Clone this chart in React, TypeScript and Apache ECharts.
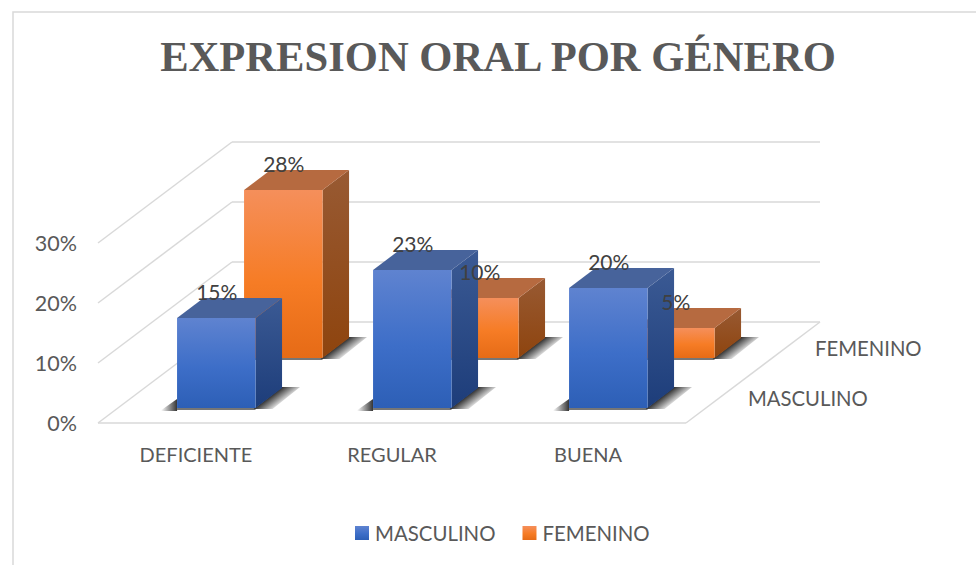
import React, { useEffect, useRef } from "react";
import * as echarts from "echarts";

const titleText = "EXPRESION ORAL POR GÉNERO";
const categories = ["DEFICIENTE", "REGULAR", "BUENA"];
const masculino = [15, 23, 20];
const femenino = [28, 10, 5];
const valueTicks = [0, 10, 20, 30];
const SERIES_M = "MASCULINO";
const SERIES_F = "FEMENINO";

const FONT = "Lato, 'Open Sans', sans-serif";
const TEXT = "#595959";
const GRID_LINE = "#d9d9d9";

const lg = (stops: [number, string][]) =>
  new echarts.graphic.LinearGradient(0, 0, 0, 1, stops.map(([offset, color]) => ({ offset, color })));

const blue = {
  front: () => lg([[0, "#5f83d0"], [0.55, "#3d6ec8"], [1, "#2d5fb6"]]),
  side: () => lg([[0, "#3b5a94"], [1, "#1d3d7a"]]),
  top: "#47639b",
};
const orange = {
  front: () => lg([[0, "#f58f5b"], [0.55, "#f67c25"], [1, "#e66b16"]]),
  side: () => lg([[0, "#985a33"], [1, "#8e440e"]]),
  top: "#b66a40",
};

// Depth geometry of the oblique projection
const BAR_W = 78.5;
const DEPTH_X = 26.5;
const DEPTH_Y = 20;
const rowOffset = [
  { dx: 20.3, dy: -15 },
  { dx: 87.3, dy: -65 },
];

function barItem(row: number, palette: typeof blue) {
  return (_: any, api: any) => {
    const base = api.coord([api.value(0), 0]);
    const top = api.coord([api.value(0), api.value(1)]);
    const { dx, dy } = rowOffset[row];
    const x0 = base[0] + dx - BAR_W / 2;
    const x1 = x0 + BAR_W;
    const y0 = base[1] + dy;
    const y1 = top[1] + dy;
    const poly = (points: number[][], fill: any, stroke?: string) => ({
      type: "polygon",
      shape: { points },
      style: { fill, stroke: stroke || "none", lineWidth: stroke ? 1 : 0 },
      silent: true,
    });
    const shadowDark = "rgba(30,30,30,0.9)";
    const shadowMid = "rgba(30,30,30,0.5)";
    const shadowClear = "rgba(30,30,30,0)";
    const mx = x1 + 13;
    const my = y0 - 10;
    const rightShadow = new echarts.graphic.LinearGradient(
      mx, my, mx + 8, my + 10.6,
      [{ offset: 0, color: shadowDark }, { offset: 0.45, color: shadowMid }, { offset: 1, color: shadowClear }],
      true
    );
    const leftShadow = new echarts.graphic.LinearGradient(
      x0 - 16, y0, x0, y0,
      [{ offset: 0, color: shadowClear }, { offset: 0.55, color: shadowMid }, { offset: 1, color: shadowDark }],
      true
    );
    return {
      type: "group",
      children: [
        poly([[x1 - 2, y0 + 1], [x1 + DEPTH_X, y0 - DEPTH_Y - 1], [x1 + DEPTH_X + 18, y0 - DEPTH_Y - 1], [x1 + 17, y0 + 1]], rightShadow),
        poly([[x0 - 17, y0 + 3], [x0, y0 - 9], [x0, y0 + 3]], leftShadow),
        poly([[x0, y0 + 2], [x1, y0 + 2], [x1, y0], [x0, y0]], "rgba(60,60,60,0.7)"),
        poly([[x1, y1], [x1 + DEPTH_X, y1 - DEPTH_Y], [x1 + DEPTH_X, y0 - DEPTH_Y], [x1, y0]], palette.side()),
        poly([[x0, y1], [x0 + DEPTH_X, y1 - DEPTH_Y], [x1 + DEPTH_X, y1 - DEPTH_Y], [x1, y1]], palette.top),
        poly([[x0, y1], [x1, y1], [x1, y0], [x0, y0]], palette.front()),
      ],
    };
  };
}

function labelItem(_: any, api: any) {
  const row = api.value(2);
  const top = api.coord([api.value(0), api.value(1)]);
  const { dx, dy } = rowOffset[row];
  return {
    type: "text",
    silent: true,
    style: {
      x: top[0] + dx + 0.5,
      y: top[1] + dy - 26.5,
      text: `${api.value(1)}%`,
      fill: "#404040",
      font: `21px ${FONT}`,
      align: "center",
      verticalAlign: "middle",
    },
  };
}

function wallItem(params: any, api: any) {
  const v = api.value(1);
  const y = api.coord([0, v])[1];
  const sys = params.coordSys;
  const left = sys.x;
  const right = sys.x + sys.width;
  const backDx = 134;
  const backDy = -101;
  const line = (x1: number, y1: number, x2: number, y2: number) => ({
    type: "line",
    silent: true,
    shape: { x1, y1, x2, y2 },
    style: { stroke: GRID_LINE, lineWidth: 1.5 },
  });
  const children = [
    line(left, y, left + backDx, y + backDy),
    line(left + backDx, y + backDy, right + backDx, y + backDy),
  ];
  if (v === 0) {
    children.push(line(left, y, right, y));
    children.push(line(right, y, right + backDx, y + backDy));
  }
  return { type: "group", children };
}

export default function App() {
  const ref = useRef<HTMLDivElement>(null);
  useEffect(() => {
    const chart = echarts.init(ref.current!, undefined, { renderer: "svg", width: 976, height: 565 });
    chart.setOption({
      animation: false,
      backgroundColor: "#ffffff",
      textStyle: { fontFamily: FONT },
      graphic: [
        {
          type: "rect",
          z: 0,
          silent: true,
          shape: { x: 13, y: 12, width: 1000, height: 600 },
          style: { fill: "none", stroke: GRID_LINE, lineWidth: 1.5 },
        },
        {
          type: "text",
          silent: true,
          x: 815,
          y: 348,
          style: { text: SERIES_F, fill: TEXT, font: `20.3px ${FONT}`, verticalAlign: "middle", align: "left" },
        },
        {
          type: "text",
          silent: true,
          x: 748,
          y: 398,
          style: { text: SERIES_M, fill: TEXT, font: `20.3px ${FONT}`, verticalAlign: "middle", align: "left" },
        },
      ],
      title: {
        text: titleText,
        left: 493,
        top: 30,
        textAlign: "center",
        textStyle: {
          fontFamily: "'Liberation Serif', serif",
          fontWeight: "bold",
          fontSize: 42.6,
          color: TEXT,
        },
      },
      legend: {
        data: [SERIES_M, SERIES_F],
        left: 350,
        top: 518,
        icon: "rect",
        itemWidth: 14,
        itemHeight: 14,
        itemGap: 27,
        selectedMode: false,
        textStyle: { fontFamily: FONT, fontSize: 20.4, color: TEXT, padding: [1, 0, 0, 1] },
      },
      grid: { left: 98, top: 243, width: 588, height: 180, containLabel: false },
      xAxis: {
        type: "category",
        data: categories,
        axisLine: { show: false },
        axisTick: { show: false },
        splitLine: { show: false },
        axisLabel: { color: TEXT, fontSize: 20, fontFamily: FONT, margin: 21 },
      },
      yAxis: {
        type: "value",
        min: 0,
        max: 30,
        interval: 10,
        axisLine: { show: false },
        axisTick: { show: false },
        splitLine: { show: false },
        axisLabel: { color: TEXT, fontSize: 21.5, fontFamily: FONT, margin: 21, padding: [6, 0, 0, 0], formatter: "{value}%" },
      },
      series: [
        {
          type: "custom",
          name: "walls",
          z: 1,
          silent: true,
          renderItem: wallItem,
          data: valueTicks.map((v) => [0, v]),
        },
        {
          type: "custom",
          name: SERIES_F,
          z: 2,
          silent: true,
          itemStyle: { color: orange.front() },
          renderItem: barItem(1, orange),
          data: femenino.map((v, i) => [i, v]),
        },
        {
          type: "custom",
          name: SERIES_M,
          z: 3,
          silent: true,
          itemStyle: { color: blue.front() },
          renderItem: barItem(0, blue),
          data: masculino.map((v, i) => [i, v]),
        },
        {
          type: "custom",
          name: "labels",
          z: 4,
          silent: true,
          renderItem: labelItem,
          data: [
            ...femenino.map((v, i) => [i, v, 1]),
            ...masculino.map((v, i) => [i, v, 0]),
          ],
        },
      ],
    });
    return () => chart.dispose();
  }, []);
  return (
    <div
      ref={ref}
      style={{ position: "fixed", left: 0, top: 0, width: 976, height: 565 }}
    />
  );
}
